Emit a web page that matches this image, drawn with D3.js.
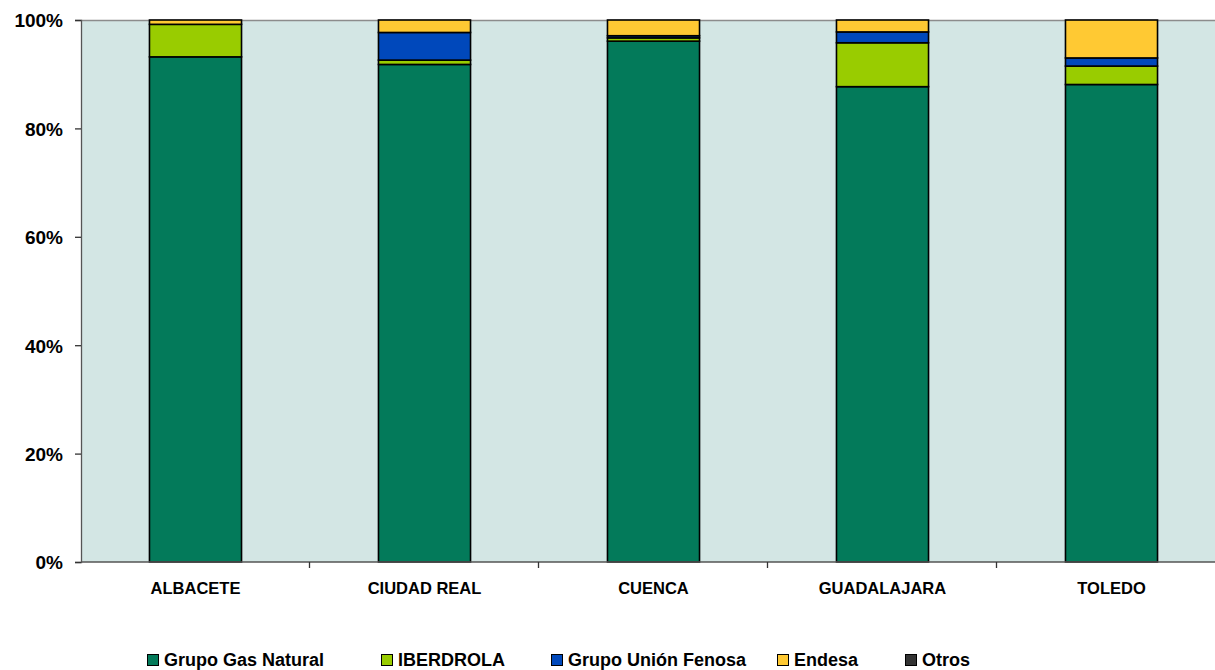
<!DOCTYPE html>
<html>
<head>
<meta charset="utf-8">
<script src="https://cdn.jsdelivr.net/npm/d3@7"></script>
<style>
body { margin: 0; background: #fff; }
svg text { font-family: "Liberation Sans", Arial, sans-serif; font-weight: bold; fill: #000; }
</style>
</head>
<body>
<svg id="chart" width="1215" height="670"></svg>
<script>
// provinces
var categories = ["ALBACETE", "CIUDAD REAL", "CUENCA", "GUADALAJARA", "TOLEDO"];
var seriesNames = ["Grupo Gas Natural", "IBERDROLA", "Grupo Unión Fenosa", "Endesa", "Otros"];
var seriesColors = ["#037a5a", "#99cc00", "#0048bb", "#ffc933", "#333333"];
// percent shares
var gasNatural = [93.2, 91.8, 96.1, 87.7, 88.1];
var iberdrola  = [6.0, 0.8, 0.6, 8.1, 3.4];
var unionFenosa = [0.0, 5.1, 0.4, 2.0, 1.5];
var endesa     = [0.8, 2.3, 2.9, 2.2, 7.0];
var otros      = [0.0, 0.0, 0.0, 0.0, 0.0];
var yTicks = [0, 20, 40, 60, 80, 100];

var svg = d3.select("#chart"),
	margin = {left: 81, top: 20, right: 0, bottom: 108},
	plotW = 1145,
	plotH = 542;

var x = d3.scaleBand().domain(categories).range([margin.left, margin.left + plotW]).paddingInner(0.598).paddingOuter(0.299);
var y = d3.scaleLinear().domain([0, 100]).range([margin.top + plotH, margin.top]);

var rows = categories.map(function(c, i) {
	return {cat: c, "Grupo Gas Natural": gasNatural[i], "IBERDROLA": iberdrola[i],
		"Grupo Unión Fenosa": unionFenosa[i], "Endesa": endesa[i], "Otros": otros[i]};
});
var stacked = d3.stack().keys(seriesNames)(rows);

// plot background
svg.append("rect")
	.attr("x", margin.left).attr("y", margin.top)
	.attr("width", plotW).attr("height", plotH)
	.attr("fill", "#d3e6e4");
svg.append("line")
	.attr("x1", margin.left).attr("x2", margin.left + plotW)
	.attr("y1", margin.top + 0.5).attr("y2", margin.top + 0.5)
	.attr("stroke", "#8c8c8c").attr("stroke-width", 1.5);

// bars
var layer = svg.selectAll("g.layer").data(stacked).enter().append("g")
	.attr("class", "layer")
	.attr("fill", function(d, i) { return seriesColors[i]; });
layer.selectAll("rect").data(function(d) { return d.filter(function(p) { return p[1] - p[0] > 0; }); })
	.enter().append("rect")
	.attr("x", function(d) { return x(d.data.cat); })
	.attr("width", x.bandwidth())
	.attr("y", function(d) { return y(d[1]); })
	.attr("height", function(d) { return y(d[0]) - y(d[1]); })
	.attr("stroke", "#000").attr("stroke-width", 1.6);

// y axis
var yAxis = svg.append("g").attr("transform", "translate(" + margin.left + ",0)")
	.call(d3.axisLeft(y).tickValues(yTicks).tickFormat(function(d) { return d + "%"; }).tickSize(6).tickPadding(12));
yAxis.select(".domain").attr("stroke", "#555").attr("stroke-width", 1.3);
yAxis.selectAll(".tick line").attr("stroke", "#333").attr("stroke-width", 1.3);
yAxis.selectAll(".tick text").style("font-size", "19px").attr("font-family", null).attr("dy", "0.36em");

// x axis
var xAxis = svg.append("g").attr("transform", "translate(0," + (margin.top + plotH) + ")");
xAxis.append("line")
	.attr("x1", margin.left).attr("x2", margin.left + plotW)
	.attr("stroke", "#555").attr("stroke-width", 1.3);
xAxis.selectAll("line.sep").data(categories.slice(1)).enter().append("line")
	.attr("class", "sep")
	.attr("x1", function(d) { return x(d) - x.step() * x.paddingInner() / 2 - 0.5; })
	.attr("x2", function(d) { return x(d) - x.step() * x.paddingInner() / 2 - 0.5; })
	.attr("y1", 0).attr("y2", 6)
	.attr("stroke", "#333").attr("stroke-width", 1.3);
xAxis.selectAll("text").data(categories).enter().append("text")
	.attr("x", function(d) { return x(d) + x.bandwidth() / 2; })
	.attr("y", 32)
	.attr("text-anchor", "middle")
	.style("font-size", "16.5px")
	.text(function(d) { return d; });

// legend
var legendX = [147, 381, 551, 777, 905];
var legend = svg.selectAll("g.legend").data(seriesNames).enter().append("g")
	.attr("class", "legend")
	.attr("transform", function(d, i) { return "translate(" + legendX[i] + ",654)"; });
legend.append("rect")
	.attr("x", 0.5).attr("y", 0.5).attr("width", 11).attr("height", 11)
	.attr("fill", function(d, i) { return seriesColors[i]; })
	.attr("stroke", "#000").attr("stroke-width", 1);
legend.append("text")
	.attr("x", 17).attr("y", 12)
	.style("font-size", "18px")
	.text(function(d) { return d; });
</script>
</body>
</html>
